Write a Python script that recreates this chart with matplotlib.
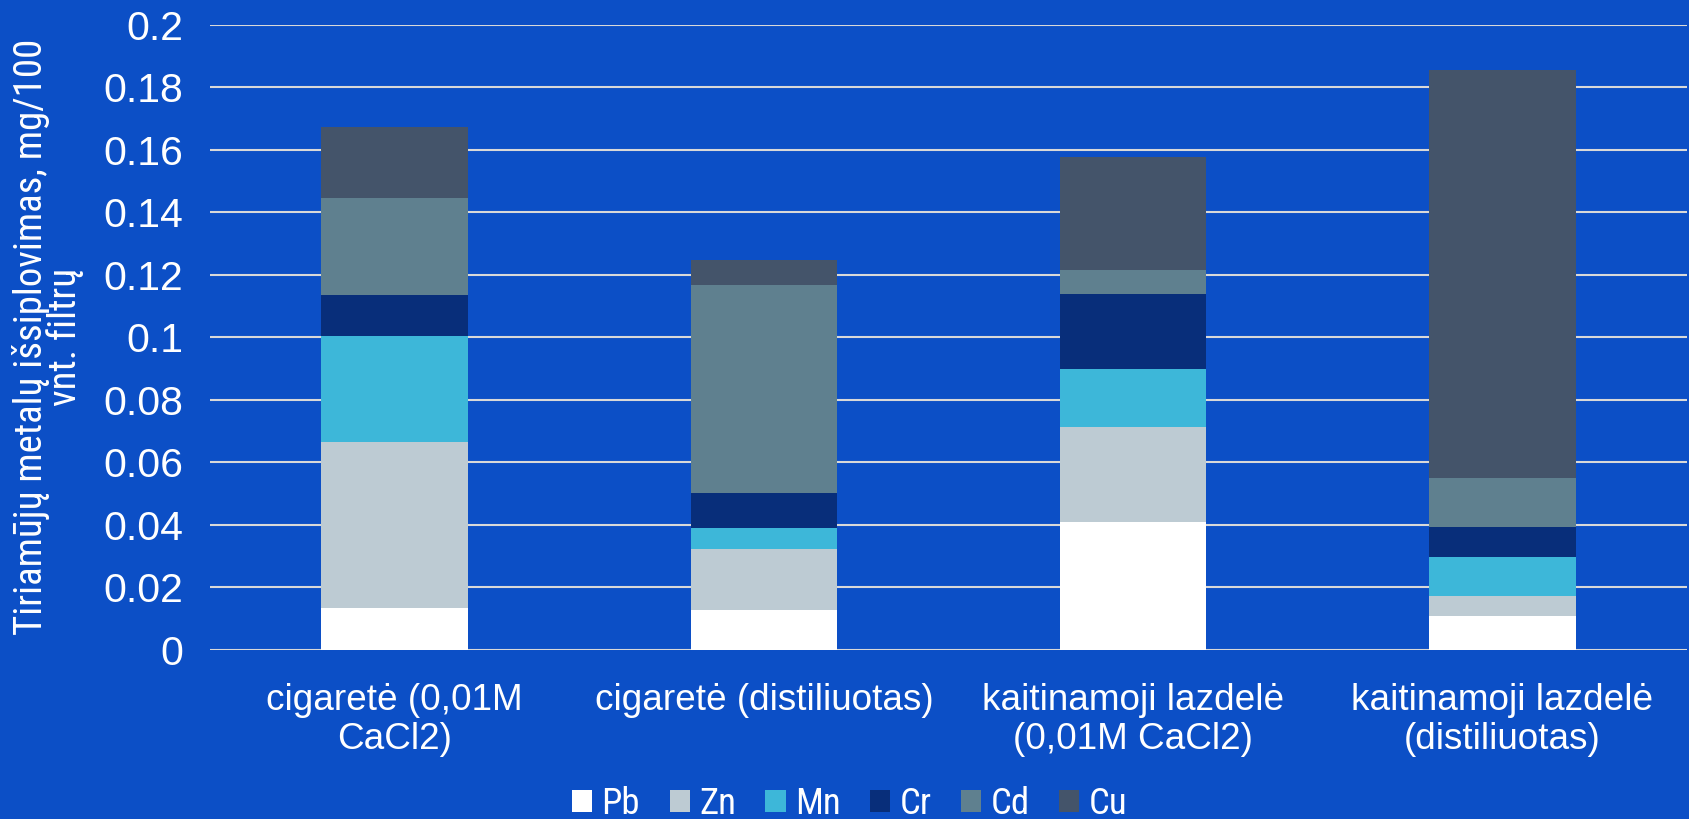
import numpy as np
import matplotlib
matplotlib.use("Agg")
import matplotlib.pyplot as plt
import matplotlib.font_manager as fm

categories = ["cigaretė (0,01M\nCaCl2)", "cigaretė (distiliuotas)",
              "kaitinamoji lazdelė\n(0,01M CaCl2)", "kaitinamoji lazdelė\n(distiliuotas)"]
metals = ["Pb", "Zn", "Mn", "Cr", "Cd", "Cu"]
pb = [0.0134, 0.0128, 0.0407, 0.0107]
zn = [0.0532, 0.0193, 0.0307, 0.0065]
mn = [0.0337, 0.0069, 0.0183, 0.0125]
cr = [0.0131, 0.0110, 0.0241, 0.0096]
cd = [0.0311, 0.0666, 0.0076, 0.0155]
cu = [0.0227, 0.0082, 0.0362, 0.1307]
colors = ["#ffffff", "#bdcbd3", "#3db7d9", "#082e7a", "#5f808f", "#44546a"]

bg = "#0c4fc6"
plt.rcParams['font.family'] = ['Liberation Sans', 'DejaVu Sans']

# look for a narrow face for the y label and legend
names = {f.name for f in fm.fontManager.ttflist}
narrow = None
stretch = 'normal'
for cand in ['Liberation Sans Narrow', 'Arial Narrow', 'Roboto Condensed', 'Open Sans Condensed']:
    if cand in names:
        narrow = cand
        break
if narrow is None and any(f.name == 'DejaVu Sans' and f.stretch == 'condensed'
                          for f in fm.fontManager.ttflist):
    narrow = 'DejaVu Sans'
    stretch = 'condensed'
if narrow is None:
    narrow = 'Liberation Sans'
    lab_size, leg_size = 23, 23
else:
    lab_size, leg_size = 28, 26.5

fig = plt.figure(figsize=(16.89, 8.19), dpi=100, facecolor=bg)
ax = fig.add_axes([0.1243, 0.2068, 0.8745, 0.7629], facecolor=bg)

x = np.arange(len(categories))
bottom = np.zeros(len(categories))
for name, vals, c in zip(metals, [pb, zn, mn, cr, cd, cu], colors):
    ax.bar(x, vals, 0.397, bottom=bottom, color=c, label=name, zorder=3)
    bottom += np.array(vals)

ax.set_xlim(-0.5, 3.5)
ax.set_ylim(0, 0.2)
ax.set_yticks(np.arange(0, 0.201, 0.02))
ax.set_yticklabels(["0", "0.02", "0.04", "0.06", "0.08", "0.1", "0.12", "0.14",
                    "0.16", "0.18", "0.2"])
ax.yaxis.grid(True, color="#d9d9d9", linewidth=1.5, zorder=0)
ax.set_axisbelow(True)
for s in ax.spines.values():
    s.set_visible(False)
ax.tick_params(axis='y', length=0, colors="white", labelsize=29.5, pad=19)
ax.tick_params(axis='x', length=0, colors="white", labelsize=26.6, pad=24)
ax.set_xticks(x)
ax.set_xticklabels(categories, linespacing=1.15)

ax.set_ylabel("Tiriamūjų metalų išsiplovimas, mg/100\nvnt. filtrų", color="white",
              fontsize=lab_size, family=[narrow, 'Liberation Sans'], fontstretch=stretch,
              linespacing=0.86, labelpad=14)

leg = fig.legend(loc='center', bbox_to_anchor=(0.503, 0.018), ncol=6, frameon=False,
                 handlelength=0.55, handleheight=0.55, handletextpad=0.25,
                 columnspacing=0.8,
                 prop={'family': [narrow, 'Liberation Sans'], 'size': leg_size,
                       'stretch': stretch})
for t in leg.get_texts():
    t.set_color("white")

fig.savefig("out.png", dpi=100, facecolor=bg)
